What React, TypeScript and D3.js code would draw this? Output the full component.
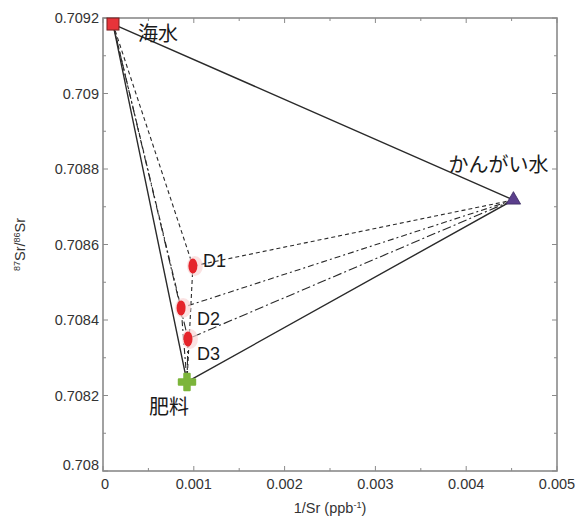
import React from 'react'
import * as d3 from 'd3'

// end members (mixing sources)
const sourceNames = ['海水', 'かんがい水', '肥料']
const sourceX = [0.00011, 0.00452, 0.000925]
const sourceY = [0.709184, 0.708718, 0.708236]

// groundwater samples
const sampleNames = ['D1', 'D2', 'D3']
const sampleX = [0.00099, 0.00086, 0.000936]
const sampleY = [0.708543, 0.708432, 0.70835]

const xTicks = [0, 0.001, 0.002, 0.003, 0.004, 0.005]
const xTickLabels = ['0', '0.001', '0.002', '0.003', '0.004', '0.005']
const yTicks = [0.708, 0.7082, 0.7084, 0.7086, 0.7088, 0.709, 0.7092]
const yTickLabels = ['0.708', '0.7082', '0.7084', '0.7086', '0.7088', '0.709', '0.7092']

const W = 587
const H = 527
const margin = { top: 18, right: 30, bottom: 56, left: 103 }
const font = 'Liberation Sans, Arial, sans-serif'

export default function App() {
  const x = d3.scaleLinear().domain([0, 0.005]).range([margin.left, W - margin.right])
  const y = d3.scaleLinear().domain([0.708, 0.7092]).range([H - margin.bottom, margin.top])
  const [x0, x1] = x.range()
  const [y0, y1] = y.range()

  const xMinor = d3.range(0, 0.0050001, 0.0005)
  const yMinor = d3.range(0.708, 0.70920001, 0.0001)

  // dash style per sample
  const dashes = ['4,3', '6,3,2,3', '9,3,2,3']
  const line = d3.line<[number, number]>().x(d => x(d[0])).y(d => y(d[1]))

  const seg = (ax: number, ay: number, bx: number, by: number) => line([[ax, ay], [bx, by]]) || ''

  return (
    <div style={{ position: 'absolute', left: 0, top: 0 }}>
      <svg width={W} height={H} style={{ display: 'block', background: '#fff' }}>
        {/* ticks, inward on all sides */}
        <g stroke="#8a8a8a" strokeWidth={1}>
          {xMinor.map((t, i) => {
            const len = i % 2 === 0 ? 5 : 3
            return (
              <g key={'xt' + i}>
                <line x1={x(t)} x2={x(t)} y1={y0} y2={y0 - len} />
                <line x1={x(t)} x2={x(t)} y1={y1} y2={y1 + len} />
              </g>
            )
          })}
          {yMinor.map((t, i) => {
            const len = i % 2 === 0 ? 5 : 3
            return (
              <g key={'yt' + i}>
                <line x1={x0} x2={x0 + len} y1={y(t)} y2={y(t)} />
                <line x1={x1} x2={x1 - len} y1={y(t)} y2={y(t)} />
              </g>
            )
          })}
        </g>

        {/* mixing lines from samples to each end member */}
        <g fill="none" stroke="#2a2a2a" strokeWidth={1.1}>
          {sampleX.map((sx, i) => (
            <g key={'mix' + i} strokeDasharray={dashes[i]}>
              {sourceX.map((ex, j) => (
                <path key={j} d={seg(ex, sourceY[j], sx, sampleY[i])} />
              ))}
            </g>
          ))}
        </g>

        {/* solid triangle between end members */}
        <path
          d={(line(sourceX.map((v, i) => [v, sourceY[i]] as [number, number])) || '') + 'Z'}
          fill="none"
          stroke="#2a2a2a"
          strokeWidth={1.4}
        />

        {/* frame */}
        <rect x={x0} y={y1} width={x1 - x0} height={y0 - y1} fill="none" stroke="#8a8a8a" strokeWidth={1.6} />

        {/* samples */}
        {sampleX.map((sx, i) => (
          <g key={'s' + i}>
            <ellipse cx={x(sx) + 2} cy={y(sampleY[i])} rx={8} ry={10} fill="#f9d6d6" opacity={0.7} />
            <ellipse cx={x(sx)} cy={y(sampleY[i])} rx={4.5} ry={7.5} fill="#e5242b" />
          </g>
        ))}

        {/* end member markers */}
        <rect x={x(sourceX[0]) - 6} y={y(sourceY[0]) - 6} width={12} height={12} fill="#e8343a" stroke="#7a2020" strokeWidth={1} />
        <path
          d={d3.symbol(d3.symbolTriangle, 90)() || ''}
          transform={`translate(${x(sourceX[1])},${y(sourceY[1])})`}
          fill="#5b3f8c"
          stroke="#3a2a60"
          strokeWidth={0.8}
        />
        <path
          d={d3.symbol(d3.symbolCross, 150)() || ''}
          transform={`translate(${x(sourceX[2])},${y(sourceY[2])})`}
          fill="#7cb53b"
          stroke="#7cb53b"
          strokeWidth={2}
          strokeLinejoin="round"
        />

        {/* point labels */}
        <g fontFamily="Noto Sans CJK JP, sans-serif" fontSize={20} fill="#1a1a1a">
          <text x={x(sourceX[0]) + 25} y={y(sourceY[0]) + 17}>{sourceNames[0]}</text>
          <text x={x(sourceX[1]) + 35} y={y(sourceY[1]) - 28} textAnchor="end">{sourceNames[1]}</text>
          <text x={x(sourceX[2]) - 38} y={y(sourceY[2]) + 32}>{sourceNames[2]}</text>
        </g>
        <g fontFamily={font} fontSize={18} fill="#1a1a1a">
          <text x={x(sampleX[0]) + 10} y={y(sampleY[0]) + 1}>{sampleNames[0]}</text>
          <text x={x(sampleX[1]) + 16} y={y(sampleY[1]) + 17}>{sampleNames[1]}</text>
          <text x={x(sampleX[2]) + 9} y={y(sampleY[2]) + 21}>{sampleNames[2]}</text>
        </g>

        {/* tick labels */}
        <g fontFamily={font} fontSize={14.5} fill="#333">
          {xTicks.map((t, i) => (
            <text key={'xl' + i} x={x(t) + (i === 0 ? 2 : 0)} y={y0 + 18} textAnchor="middle">
              {xTickLabels[i]}
            </text>
          ))}
          {yTicks.map((t, i) => (
            <text key={'yl' + i} x={x0 - 4} y={y(t) + 5 - (i === 0 ? 6 : 0)} textAnchor="end">
              {yTickLabels[i]}
            </text>
          ))}
        </g>

        {/* axis titles */}
        <text x={(x0 + x1) / 2} y={H - 14} textAnchor="middle" fontFamily={font} fontSize={14.5} fill="#333">
          1/Sr (ppb<tspan dy={-5} fontSize={9}>-1</tspan><tspan dy={5}>)</tspan>
        </text>
        <text
          transform={`translate(25,${(y0 + y1) / 2}) rotate(-90)`}
          textAnchor="middle"
          fontFamily={font}
          fontSize={14.5}
          fill="#333"
        >
          <tspan dy={-5} fontSize={9}>87</tspan>
          <tspan dy={5}>Sr/</tspan>
          <tspan dy={-5} fontSize={9}>86</tspan>
          <tspan dy={5}>Sr</tspan>
        </text>
      </svg>
    </div>
  )
}
